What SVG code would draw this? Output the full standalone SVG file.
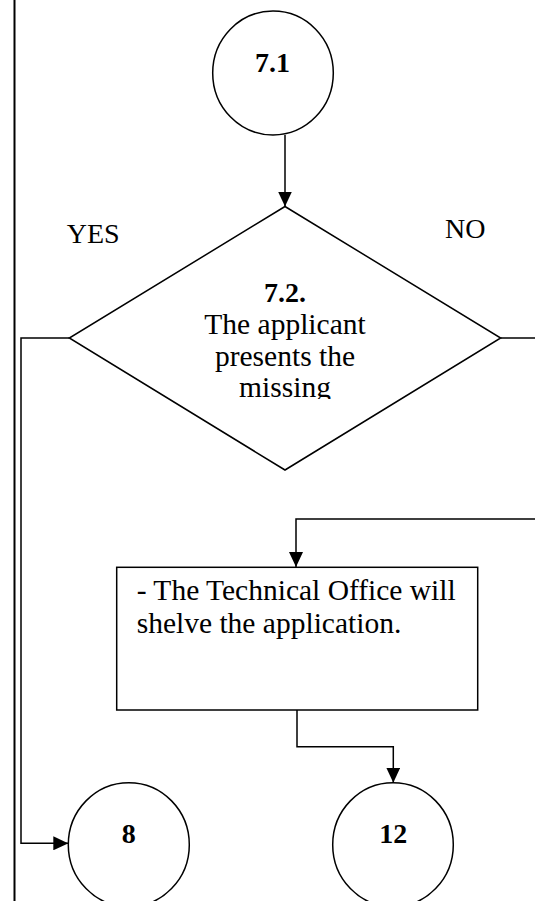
<svg xmlns="http://www.w3.org/2000/svg" width="535" height="901" viewBox="0 0 535 901">
  <style>
    .shape { fill: #ffffff; stroke: #000000; stroke-width: 1.5; }
    .conn { fill: none; stroke: #000000; stroke-width: 1.5; }
    .t { font-family: "Liberation Serif", "Times New Roman", serif; font-size: 28px; fill: #000000; }
    .big { font-size: 29.5px; }
    .b { font-weight: bold; }
    .mid { text-anchor: middle; }
  </style>
  <defs>
    <marker id="arrow" markerUnits="userSpaceOnUse" markerWidth="15" markerHeight="14" refX="15" refY="7" orient="auto">
      <path d="M0,0 L15,7 L0,14 z" fill="#000000"/>
    </marker>
    <clipPath id="diamondClip">
      <rect x="0" y="200" width="535" height="199"/>
    </clipPath>
  </defs>
  <rect x="0" y="0" width="535" height="901" fill="#ffffff"/>
  <g id="border">
    <line x1="14.5" y1="0" x2="14.5" y2="901" stroke="#000000" stroke-width="2"/>
  </g>
  <g id="connectors">
    <line class="conn" x1="285" y1="135" x2="285" y2="206.5" marker-end="url(#arrow)"/>
    <path class="conn" d="M69.3,338 H21 V843.3 H68.3" marker-end="url(#arrow)"/>
    <path class="conn" d="M500.7,338 H535"/>
    <path class="conn" d="M535,519 H296 V567" marker-end="url(#arrow)"/>
    <path class="conn" d="M297,710 V746.7 H393.3 V782.7" marker-end="url(#arrow)"/>
  </g>
  <g id="node-7-1">
    <ellipse class="shape" cx="273" cy="73" rx="60.3" ry="62"/>
    <text class="t b mid" x="272.5" y="71.7">7.1</text>
  </g>
  <g id="label-yes">
    <text class="t" x="66.7" y="242.7">YES</text>
  </g>
  <g id="label-no">
    <text class="t" x="445" y="237.7" font-size="30">NO</text>
  </g>
  <g id="node-7-2">
    <polygon class="shape" points="285,206.5 500.7,338 285,470 69.3,338"/>
    <g clip-path="url(#diamondClip)">
      <text class="t b mid" x="285" y="301.7">7.2.</text>
      <text class="t big mid" x="285" y="333.5">The applicant</text>
      <text class="t big mid" x="285" y="365.5">presents the</text>
      <text class="t big mid" x="285" y="397.3">missing</text>
    </g>
  </g>
  <g id="node-shelve">
    <rect class="shape" x="116.7" y="567.3" width="361" height="142.7"/>
    <text class="t big" x="136.7" y="600" textLength="319" lengthAdjust="spacing">- The Technical Office will</text>
    <text class="t big" x="136.7" y="633.3">shelve the application.</text>
  </g>
  <g id="node-8">
    <ellipse class="shape" cx="128.8" cy="844.7" rx="60.5" ry="62"/>
    <text class="t b mid" x="128.8" y="843.3">8</text>
  </g>
  <g id="node-12">
    <ellipse class="shape" cx="393" cy="844.7" rx="60.3" ry="62"/>
    <text class="t b mid" x="393.3" y="843.3">12</text>
  </g>
</svg>
